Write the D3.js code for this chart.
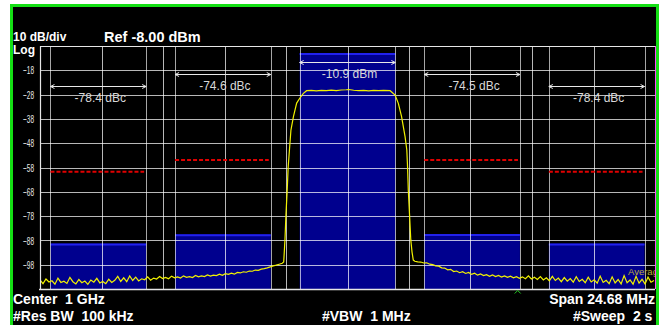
<!DOCTYPE html>
<html>
<head>
<meta charset="utf-8">
<script src="https://cdn.jsdelivr.net/npm/d3@7"></script>
<style>
  html, body { margin: 0; padding: 0; background: #ffffff; }
  svg { display: block; }
  text { font-family: "Liberation Sans", Arial, Helvetica, sans-serif; white-space: pre; }
</style>
</head>
<body>
<svg id="chart" width="662" height="325"></svg>
<script>
// ---------------- DATA ----------------
const spanMHz = 24.68;             // span around center (1 GHz)
const refLevel = -8;               // dBm (top of graticule)
const dbPerDiv = 10;
const yTicks = [-18, -28, -38, -48, -58, -68, -78, -88, -98];

const bandCenters = [-10, -5, 0, 5, 10];          // MHz offset
const bandWidth = 3.84;                           // MHz
const bandPowers = [-89.3, -85.5, -10.9, -85.4, -89.3]; // dBm
const bandLabels = ["-78.4 dBc", "-74.6 dBc", "-10.9 dBm", "-74.5 dBc", "-78.4 dBc"];
const limitLevels = [-59.7, -54.9, null, -54.9, -59.7]; // dBm (red dashed)

// trace: lower-side noise floor (sampled every 0.12 MHz from -12.34 MHz)
const floorStep = 0.12;
const floorLeftStart = -12.34;
const floorLeftLevels = [
  -104.2,-105.8,-103.9,-105.1,-104.6,-106.0,-103.5,-105.3,-104.8,-105.7,
  -103.2,-105.0,-105.9,-104.1,-105.4,-104.7,-106.1,-104.3,-105.2,-103.6,
  -105.5,-104.9,-105.8,-104.0,-105.3,-104.4,-102.8,-104.9,-103.4,-105.0,
  -102.6,-104.5,-103.1,-104.7,-103.8,-104.2,-103.0,-104.4,-103.5,-103.9,
  -102.9,-103.7,-103.2,-103.8,-102.7,-103.4,-103.0,-103.5,-102.6,-103.2,
  -102.9,-103.3,-102.4,-103.0,-102.6,-102.9,-102.2,-102.7,-102.3,-102.5,
  -101.9,-102.4,-101.7,-102.0,-101.5,-101.9,-101.2,-101.4,-100.9,-101.1,
  -100.6,-100.7,-100.2,-100.3,-99.8,-99.6,-99.3,-98.9,-98.5,-98.2,
  -97.8,-97.4
];
// trace: main channel (explicit points)
const mainFreqs = [-2.56,-2.51,-2.47,-2.42,-2.38,-2.33,-2.27,-2.17,-2.04,-1.91,-1.77,-1.64,
  -1.45,-1.25,-1.05,-0.85,-0.65,-0.45,-0.25,-0.05,0.05,0.25,0.45,0.65,0.85,1.05,1.25,1.45,
  1.71,1.91,2.04,2.17,2.31,2.38,2.41,2.44,2.49,2.54,2.59,2.64];
const mainLevels = [-96.9,-87.8,-77.5,-67.3,-57.7,-50.8,-42.6,-37.1,-31.5,-29.4,-27.5,-26.4,
  -26.3,-26.5,-26.3,-26.4,-26.2,-26.4,-26.1,-26.0,-25.9,-26.2,-26.4,-26.3,-26.5,-26.3,-26.4,-26.3,
  -26.4,-28.2,-31.6,-37.1,-45.3,-50.8,-57.7,-67.3,-77.5,-87.8,-92.8,-96.1];
// trace: upper-side noise floor (sampled every 0.12 MHz from 2.70 MHz)
const floorRightStart = 2.70;
const floorRightLevels = [
  -96.6,-96.8,-96.9,-97.3,-97.2,-97.8,-98.0,-98.5,-98.6,-99.3,
  -99.4,-100.1,-99.9,-100.8,-100.6,-101.3,-100.9,-101.6,-101.2,-102.0,
  -101.5,-102.3,-101.8,-102.5,-102.1,-102.8,-102.2,-102.9,-102.4,-103.1,
  -102.6,-103.2,-102.7,-103.4,-102.9,-103.6,-103.0,-103.8,-102.6,-103.9,
  -103.2,-104.1,-102.9,-104.3,-103.4,-104.6,-102.8,-104.5,-103.5,-105.0,
  -103.3,-104.8,-103.7,-105.2,-102.9,-104.9,-104.0,-105.4,-103.1,-105.1,
  -104.2,-105.6,-102.7,-105.3,-104.4,-105.8,-103.0,-105.5,-104.1,-105.9,
  -102.5,-105.4,-104.3,-106.0,-102.8,-105.6,-104.0,-105.9,-103.1,-105.2,
  -104.5
];
const markerFreq = 6.83;

// ---------------- LAYOUT ----------------
const W = 662, H = 325;
const plot = { left: 40, right: 655, top: 46, bottom: 289 };
const svg = d3.select("#chart");

const x = d3.scaleLinear().domain([-spanMHz / 2, spanMHz / 2]).range([plot.left, plot.right]);
const y = d3.scaleLinear().domain([refLevel - 10 * dbPerDiv, refLevel]).range([plot.bottom, plot.top]);

// background & frame fill
svg.append("rect").attr("x", 0).attr("y", 0).attr("width", W).attr("height", H).attr("fill", "#ffffff");
svg.append("rect").attr("x", 11).attr("y", 5).attr("width", 647).attr("height", 340).attr("fill", "#000000");

svg.append("defs").append("clipPath").attr("id", "plotclip")
  .append("rect").attr("x", plot.left).attr("y", plot.top)
  .attr("width", plot.right - plot.left).attr("height", plot.bottom - plot.top);

const g = svg.append("g").attr("clip-path", "url(#plotclip)");

// bands
const bands = bandCenters.map((c, i) => ({ c, p: bandPowers[i], label: bandLabels[i], lim: limitLevels[i], i }));
g.selectAll("rect.band").data(bands).join("rect")
  .attr("class", "band")
  .attr("x", d => x(d.c - bandWidth / 2))
  .attr("y", d => y(d.p))
  .attr("width", d => x(d.c + bandWidth / 2) - x(d.c - bandWidth / 2))
  .attr("height", d => plot.bottom - y(d.p))
  .attr("fill", "#00008e");
g.selectAll("line.bandtop").data(bands).join("line")
  .attr("x1", d => x(d.c - bandWidth / 2)).attr("x2", d => x(d.c + bandWidth / 2))
  .attr("y1", d => y(d.p) + 1).attr("y2", d => y(d.p) + 1)
  .attr("stroke", "#2222ee").attr("stroke-width", 2);

// grid
const gridX = d3.range(0, 11).map(k => -spanMHz / 2 + k * spanMHz / 10);
const gridY = d3.range(0, 11).map(k => refLevel - k * dbPerDiv);
g.selectAll("line.gx").data(gridX).join("line")
  .attr("x1", d => Math.round(x(d)) + 0.5).attr("x2", d => Math.round(x(d)) + 0.5)
  .attr("y1", plot.top).attr("y2", plot.bottom)
  .attr("stroke", "#ffffff").attr("stroke-opacity", 0.72).attr("stroke-width", 1);
g.selectAll("line.gy").data(gridY).join("line")
  .attr("x1", plot.left).attr("x2", plot.right)
  .attr("y1", d => Math.round(y(d)) + 0.5).attr("y2", d => Math.round(y(d)) + 0.5)
  .attr("stroke", "#ffffff").attr("stroke-opacity", 0.72).attr("stroke-width", 1);

// band edge lines
const edges = [];
bandCenters.forEach(c => { edges.push(c - bandWidth / 2); edges.push(c + bandWidth / 2); });
g.selectAll("line.edge").data(edges).join("line")
  .attr("x1", d => Math.round(x(d)) + 0.5).attr("x2", d => Math.round(x(d)) + 0.5)
  .attr("y1", plot.top).attr("y2", plot.bottom)
  .attr("stroke", "#ffffff").attr("stroke-opacity", 0.65).attr("stroke-width", 1);

// limit lines (red dashed)
g.selectAll("line.lim").data(bands.filter(d => d.lim !== null)).join("line")
  .attr("x1", d => x(d.c - bandWidth / 2)).attr("x2", d => x(d.c + bandWidth / 2) - 2)
  .attr("y1", d => y(d.lim)).attr("y2", d => y(d.lim))
  .attr("stroke", "#e00000").attr("stroke-width", 2).attr("stroke-dasharray", "4,2");

// measurement arrows + labels
const arrowOffset = [40, 28, 15.7, 28, 40];
const ann = g.append("g");
bands.forEach(d => {
  const x1 = x(d.c - bandWidth / 2), x2 = x(d.c + bandWidth / 2);
  const ay = Math.round(plot.top + arrowOffset[d.i]) + 0.5;
  ann.append("line").attr("x1", x1).attr("x2", x2).attr("y1", ay).attr("y2", ay)
    .attr("stroke", "#e8e8e8").attr("stroke-width", 1);
  ann.append("path").attr("d", `M${x1 + 4},${ay - 2} L${x1},${ay} L${x1 + 4},${ay + 2}`)
    .attr("stroke", "#e8e8e8").attr("fill", "none");
  ann.append("path").attr("d", `M${x2 - 4},${ay - 2} L${x2},${ay} L${x2 - 4},${ay + 2}`)
    .attr("stroke", "#e8e8e8").attr("fill", "none");
  ann.append("text").attr("x", x(d.c) + 2).attr("y", ay + 15.5)
    .attr("text-anchor", "middle").attr("font-size", 12).attr("fill", "#d8d8d8")
    .text(d.label);
});

// trace
const trace = [];
floorLeftLevels.forEach((v, i) => trace.push([floorLeftStart + i * floorStep, v]));
mainLevels.forEach((v, i) => trace.push([mainFreqs[i], v]));
floorRightLevels.forEach((v, i) => trace.push([floorRightStart + i * floorStep, v]));
g.append("path").datum(trace)
  .attr("d", d3.line().x(d => x(d[0])).y(d => y(d[1])))
  .attr("fill", "none").attr("stroke", "#f2f200").attr("stroke-width", 1.2);

// "Average" label
g.append("text").attr("x", 628).attr("y", 275).attr("font-size", 9.5).attr("fill", "#b8aa3a").text("Average");

// plot border
svg.append("line").attr("x1", plot.left).attr("x2", plot.right).attr("y1", plot.top + 0.5).attr("y2", plot.top + 0.5)
  .attr("stroke", "#e6e6e6").attr("stroke-width", 1.2);
svg.append("line").attr("x1", plot.left - 1).attr("x2", plot.right).attr("y1", plot.bottom + 0.5).attr("y2", plot.bottom + 0.5)
  .attr("stroke", "#e6e6e6").attr("stroke-width", 1.4);
svg.append("line").attr("x1", plot.left + 0.5).attr("x2", plot.left + 0.5).attr("y1", plot.top).attr("y2", plot.bottom)
  .attr("stroke", "#e6e6e6").attr("stroke-width", 1.2);
svg.append("line").attr("x1", plot.right + 0.5).attr("x2", plot.right + 0.5).attr("y1", plot.top).attr("y2", plot.bottom)
  .attr("stroke", "#ff44ff").attr("stroke-width", 1);

// marker caret
svg.append("path").attr("d", `M${x(markerFreq) - 3},${plot.bottom + 4.5} L${x(markerFreq)},${plot.bottom + 1.5} L${x(markerFreq) + 3},${plot.bottom + 4.5}`)
  .attr("stroke", "#22cc22").attr("fill", "none").attr("stroke-width", 1);

// y axis labels
const yAxis = d3.axisLeft(y).tickValues(yTicks).tickSize(0).tickPadding(6).tickFormat(d3.format("d"));
const ya = svg.append("g").attr("transform", `translate(${plot.left},0)`).call(yAxis);
ya.select(".domain").remove();
ya.selectAll("text").attr("fill", "#e8e8e8").attr("font-size", 11.5)
  .attr("font-family", "'Liberation Sans', Arial, sans-serif")
  .attr("textLength", 11).attr("lengthAdjust", "spacingAndGlyphs");

// header and footer text
const txt = (s, xx, yy, size, anchor) => svg.append("text").attr("x", xx).attr("y", yy)
  .attr("font-size", size).attr("font-weight", "bold").attr("fill", "#ffffff")
  .attr("text-anchor", anchor || "start").text(s);
txt("10 dB/div", 13, 41, 12);
txt("Ref -8.00 dBm", 104, 41.5, 14.5);
txt("Log", 13, 53.5, 12);
txt("Center  1 GHz", 13, 304, 14);
txt("#Res BW  100 kHz", 13, 321, 14);
txt("#VBW  1 MHz", 322, 321, 14);
txt("Span 24.68 MHz", 655, 304, 14, "end");
txt("#Sweep  2 s", 573, 321, 14);

// green frame
svg.append("rect").attr("x", 11.5).attr("y", 5.5).attr("width", 646).attr("height", 340)
  .attr("fill", "none").attr("stroke", "#14e014").attr("stroke-width", 3);
svg.append("rect").attr("x", 659).attr("y", 0).attr("width", 3).attr("height", H).attr("fill", "#ffffff");
</script>
</body>
</html>
